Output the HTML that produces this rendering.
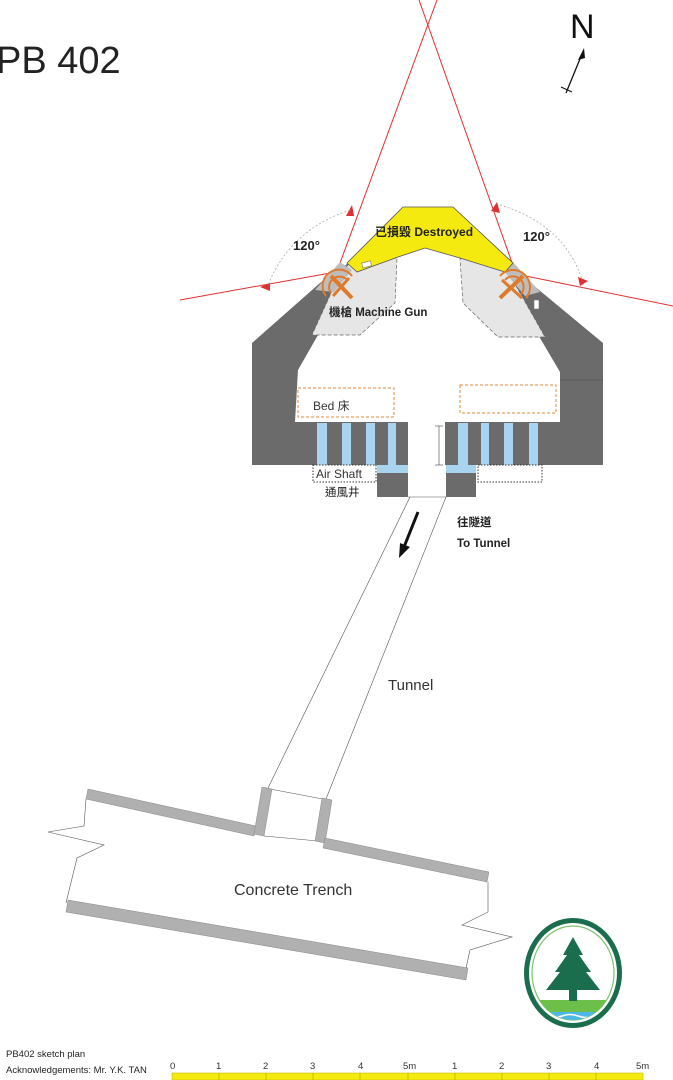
<!DOCTYPE html>
<html><head><meta charset="utf-8"><style>
html,body{margin:0;padding:0;background:#fff}
svg{display:block}
text{font-family:"Liberation Sans","Noto Sans CJK TC",sans-serif}
</style></head><body>
<svg width="673" height="1080" viewBox="0 0 673 1080" xmlns="http://www.w3.org/2000/svg">
<text x="-4" y="73" font-size="38" fill="#222">PB 402</text>
<!-- compass -->
<text x="570" y="38" font-size="34" fill="#111">N</text>
<line x1="566" y1="93" x2="582" y2="54" stroke="#111" stroke-width="1.3"/>
<polygon points="584,48 578,60 585,58" fill="#111"/>
<line x1="561" y1="87" x2="572" y2="92" stroke="#111" stroke-width="1.2"/>

<!-- red sight lines -->
<g stroke="#e03030" stroke-width="1" fill="none">
<line x1="336" y1="274" x2="437" y2="0"/>
<line x1="516" y1="274" x2="419" y2="0"/>
<line x1="336" y1="272" x2="180" y2="300"/>
<line x1="516" y1="274" x2="673" y2="306"/>
</g>
<g fill="#e03030">
<polygon points="352,205 346,216 354,216"/>
<polygon points="260,287 270,283 270,291"/>
<polygon points="497,202 491,211 500,213"/>
<polygon points="588,281 578,277 580,286"/>
</g>
<g stroke="#aaa" stroke-width="0.8" fill="none" stroke-dasharray="2,2">
<path d="M350,210 Q290,230 268,285"/>
<path d="M500,205 Q565,225 582,280"/>
</g>
<text x="293" y="250" font-size="13" font-weight="bold" fill="#222">120°</text>
<text x="523" y="241" font-size="13" font-weight="bold" fill="#222">120°</text>

<!-- bunker -->
<polygon points="252,343 320,283 350,262 355,270 298,370 295,422 408,422 408,465 252,465" fill="#6b6b6b"/>
<polygon points="603,343 533,285 505,262 500,270 560,372 560,422 445,422 445,465 603,465" fill="#6b6b6b"/>
<line x1="560" y1="380" x2="603" y2="380" stroke="#555" stroke-width="0.6"/>
<polygon points="350,262 397,258 395,303 360,335 312,335 337,280" fill="#e6e6e6" stroke="#666" stroke-width="0.7" stroke-dasharray="4,2"/>
<polygon points="460,258 507,270 545,337 498,337 463,303" fill="#e6e6e6" stroke="#666" stroke-width="0.7" stroke-dasharray="4,2"/>
<polygon points="340,262 352,270 334,292 315,290" fill="#bdbdbd"/>
<polygon points="513,262 503,270 525,296 540,292" fill="#bdbdbd"/>
<polygon points="403,207 453,207 513,263 505,272 460,258 425,248 398,257 357,272 347,263" fill="#f5ea10" stroke="#555" stroke-width="0.8"/>
<rect x="362" y="262" width="9" height="5" fill="#fff" stroke="#777" stroke-width="0.6" transform="rotate(-15 366 264)"/>
<rect x="534" y="300" width="5" height="9" fill="#fff" stroke="#777" stroke-width="0.6"/>
<text x="375" y="236" font-size="12" font-weight="bold" fill="#222">已損毀 Destroyed</text>

<!-- machine guns -->
<g stroke="#e07a2a" fill="none" stroke-width="2">
<path d="M326,296 A16,16 0 0 1 352,276"/><path d="M331,293 A10,10 0 0 1 348,281"/>
<line x1="331" y1="276" x2="352" y2="298" stroke-width="4"/><line x1="349" y1="278" x2="333" y2="296" stroke-width="3"/>
<path d="M500,276 A16,16 0 0 1 526,298"/><path d="M505,280 A10,10 0 0 1 521,294"/>
<line x1="500" y1="298" x2="523" y2="276" stroke-width="4"/><line x1="502" y1="280" x2="522" y2="298" stroke-width="3"/>
</g>
<text x="329" y="316" font-size="11.5" font-weight="bold" fill="#222">機槍 Machine Gun</text>

<!-- beds -->
<rect x="298" y="388" width="96" height="29" fill="#fff" stroke="#e08a3a" stroke-width="1" stroke-dasharray="3,2"/>
<rect x="460" y="385" width="96" height="28" fill="#fff" stroke="#e08a3a" stroke-width="1" stroke-dasharray="3,2"/>
<text x="313" y="410" font-size="12" fill="#333">Bed 床</text>

<!-- air shafts -->
<g fill="#a8d4f0">
<rect x="317" y="423" width="10" height="42"/><rect x="342" y="423" width="9" height="42"/>
<rect x="366" y="423" width="9" height="42"/><rect x="388" y="423" width="8" height="50"/>
<rect x="377" y="465" width="31" height="8"/>
<rect x="458" y="423" width="10" height="50"/><rect x="481" y="423" width="8" height="42"/>
<rect x="504" y="423" width="9" height="42"/><rect x="529" y="423" width="9" height="42"/>
<rect x="446" y="465" width="30" height="8"/>
</g>
<rect x="377" y="473" width="31" height="24" fill="#6b6b6b"/>
<rect x="446" y="473" width="30" height="24" fill="#6b6b6b"/>
<rect x="313" y="465" width="63" height="17" fill="none" stroke="#333" stroke-width="1" stroke-dasharray="1.5,1.5"/>
<rect x="478" y="465" width="64" height="17" fill="none" stroke="#333" stroke-width="1" stroke-dasharray="1.5,1.5"/>
<text x="316" y="478" font-size="12" fill="#333">Air Shaft</text>
<text x="325" y="496" font-size="11.5" fill="#222">通風井</text>
<g stroke="#444" stroke-width="0.6"><line x1="439" y1="426" x2="439" y2="465"/><line x1="435" y1="426" x2="443" y2="426"/><line x1="435" y1="465" x2="443" y2="465"/></g>

<!-- tunnel -->
<g stroke="#555" stroke-width="0.6" fill="none">
<line x1="410" y1="497" x2="268" y2="788"/>
<line x1="446" y1="497" x2="326" y2="799"/>
<line x1="408" y1="497" x2="446" y2="497"/>
<line x1="270" y1="789" x2="328" y2="800"/>
<line x1="264" y1="836" x2="318" y2="841"/>
</g>
<line x1="418" y1="512" x2="404" y2="547" stroke="#111" stroke-width="3"/>
<polygon points="399,558 400,543 410,547" fill="#111"/>
<text x="457" y="526" font-size="11.5" font-weight="bold" fill="#222">往隧道</text>
<text x="457" y="547" font-size="11.5" font-weight="bold" fill="#222">To Tunnel</text>
<text x="388" y="690" font-size="15" fill="#333">Tunnel</text>

<!-- trench -->
<g stroke="#555" stroke-width="0.6" fill="none">
<polyline points="86,799 84,826 48,832 104,845 77,858 66,903"/>
<polyline points="488,882 488,912 462,925 512,937 470,950 466,968"/>
</g>
<g fill="#b0b0b0" stroke="#888" stroke-width="0.5">
<polygon points="88,789 256,826 254,836 86,799"/>
<polygon points="262,787 272,789 264,836 254,834"/>
<polygon points="322,798 332,800 325,843 315,841"/>
<polygon points="325,838 489,872 487,882 323,848"/>
<polygon points="68,900 468,968 466,980 66,912"/>
</g>
<text x="234" y="895" font-size="16" fill="#333">Concrete Trench</text>

<!-- logo -->
<ellipse cx="573" cy="973" rx="49" ry="55" fill="#1a6e4e"/>
<ellipse cx="573" cy="973" rx="44" ry="50" fill="#fff"/>
<ellipse cx="573" cy="973" rx="41" ry="47" fill="#fff" stroke="#7cc36a" stroke-width="1.2"/>
<clipPath id="c"><ellipse cx="573" cy="973" rx="41" ry="47"/></clipPath>
<g clip-path="url(#c)">
<rect x="530" y="1000" width="90" height="12" fill="#6cc04a"/>
<rect x="530" y="1012" width="90" height="12" fill="#4db8e8"/>
<path d="M530,1016 q8,-3 16,0 t16,0 t16,0 t16,0 t16,0 t16,0" stroke="#fff" stroke-width="1.5" fill="none"/>
</g>
<polygon points="573,937 583,955 579,955 591,972 586,972 600,990 546,990 560,972 555,972 567,955 563,955" fill="#1a6e4e"/>
<rect x="569" y="990" width="8" height="11" fill="#1a6e4e"/>

<!-- footer -->
<text x="6" y="1057" font-size="9.5" fill="#222">PB402 sketch plan</text>
<text x="6" y="1073" font-size="9.5" fill="#222">Acknowledgements: Mr. Y.K. TAN</text>
<rect x="172" y="1073" width="471" height="7" fill="#f5ea10" stroke="#b8b000" stroke-width="0.5"/>
<g stroke="#a09a00" stroke-width="0.5">
<line x1="219" y1="1073" x2="219" y2="1080"/><line x1="266" y1="1073" x2="266" y2="1080"/><line x1="313" y1="1073" x2="313" y2="1080"/><line x1="360" y1="1073" x2="360" y2="1080"/><line x1="408" y1="1073" x2="408" y2="1080"/><line x1="455" y1="1073" x2="455" y2="1080"/><line x1="502" y1="1073" x2="502" y2="1080"/><line x1="549" y1="1073" x2="549" y2="1080"/><line x1="596" y1="1073" x2="596" y2="1080"/>
</g>
<g font-size="9.5" fill="#333">
<text x="170" y="1069">0</text><text x="216" y="1069">1</text><text x="263" y="1069">2</text><text x="310" y="1069">3</text><text x="358" y="1069">4</text><text x="403" y="1069">5m</text><text x="452" y="1069">1</text><text x="499" y="1069">2</text><text x="546" y="1069">3</text><text x="594" y="1069">4</text><text x="636" y="1069">5m</text>
</g>
</svg>
</body></html>
